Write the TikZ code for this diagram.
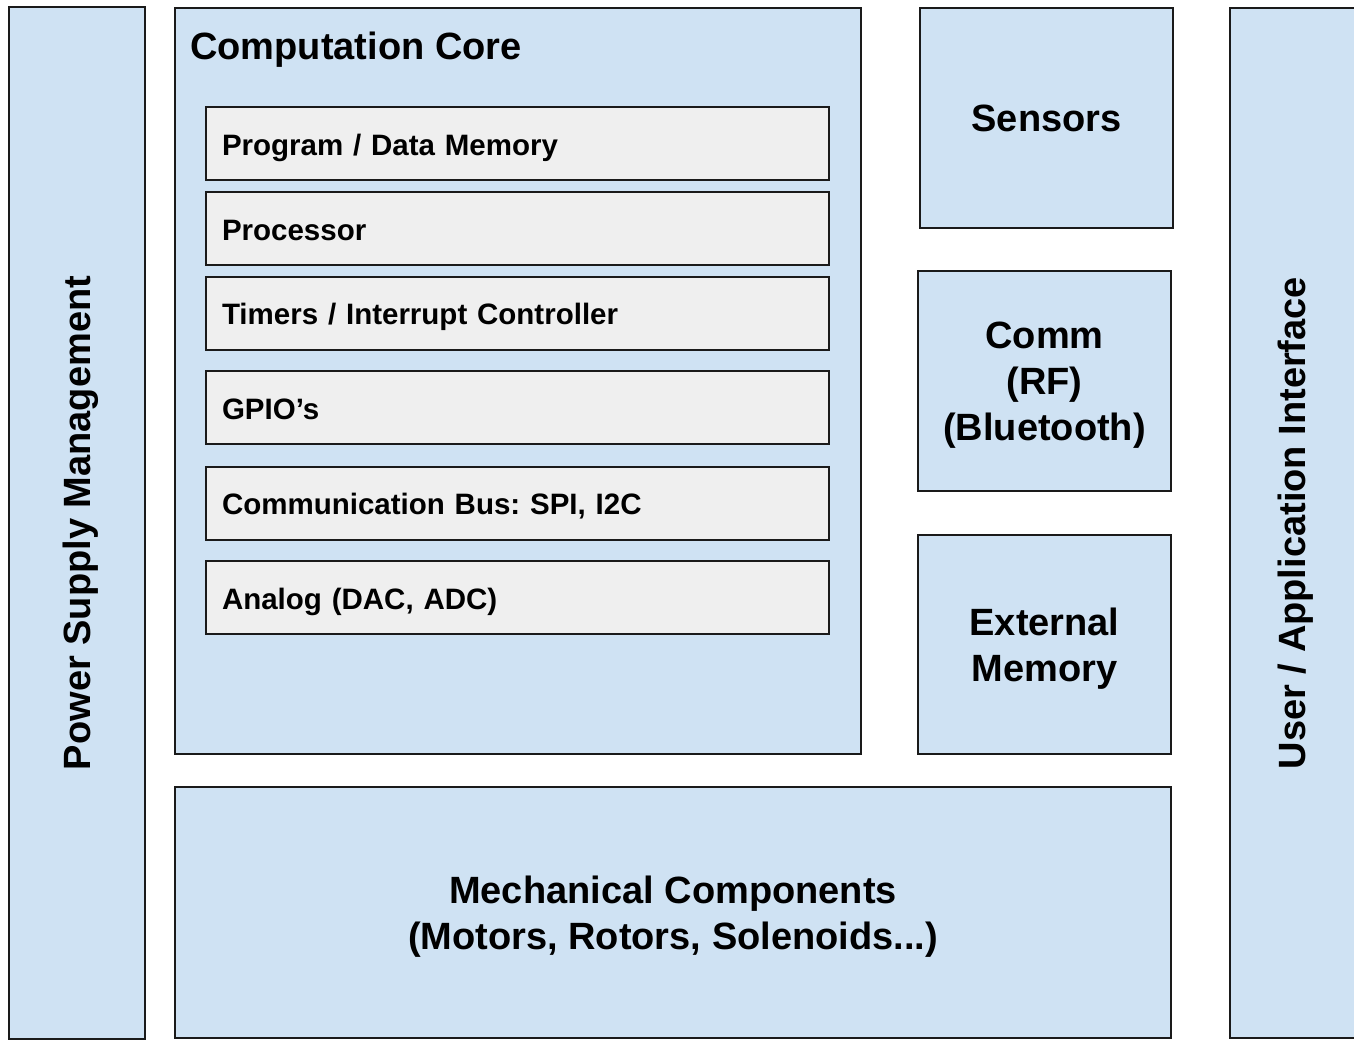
\documentclass[tikz,border=0pt]{standalone}
\usepackage{fontspec}
\setmainfont{Liberation Sans}
\frenchspacing
\definecolor{boxblue}{HTML}{CFE2F3}
\definecolor{boxgray}{HTML}{EFEFEF}
\definecolor{edge}{HTML}{1A1A1A}
\begin{document}
\begin{tikzpicture}[x=1pt,y=-1pt,
  blk/.style={draw=edge,line width=2pt,fill=boxblue,inner sep=0pt,align=center,
    font=\fontsize{38}{46}\selectfont\bfseries},
  sub/.style={draw=edge,line width=2pt,fill=boxgray,minimum width=623pt,minimum height=73pt,
    text width=591pt,inner xsep=16pt,inner ysep=0pt,align=left,
    text height=29pt,text depth=6pt,
    font=\fontsize{29.5}{34}\selectfont\bfseries},
  lbl/.style={inner sep=0pt,font=\fontsize{38}{46}\selectfont\bfseries,align=center}]
\useasboundingbox (0,0) rectangle (1354,1040);
\clip (0,0) rectangle (1354,1040);
% Power supply
\node[blk,minimum width=136pt,minimum height=1031pt] (ps) at (77,523) {};
\node[lbl,rotate=90] (pst) at (81,523) {Power Supply Management};
% Computation core
\node[blk,minimum width=686pt,minimum height=746pt] (core) at (518,381) {};
\node[lbl,anchor=base west] (coret) at (190,60) {Computation Core};
\node[sub] (mem) at (517.5,144) {Program / Data Memory};
\node[sub] (proc) at (517.5,229) {Processor};
\node[sub] (tim) at (517.5,313.5) {Timers / Interrupt Controller};
\node[sub] (gpio) at (517.5,407.5) {GPIO’s};
\node[sub] (bus) at (517.5,503) {Communication Bus: SPI, I2C};
\node[sub] (ana) at (517.5,597.5) {Analog (DAC, ADC)};
% Right column
\node[blk,minimum width=253pt,minimum height=220pt] (sens) at (1046.5,118) {Sensors};
\node[blk,minimum width=253pt,minimum height=220pt] (comm) at (1044.5,381) {};
\node[lbl,yshift=-4pt] (commt) at (comm.center) {Comm\\(RF)\\(Bluetooth)};
\node[blk,minimum width=253pt,minimum height=219pt] (ext) at (1044.5,644.5) {};
\node[lbl,yshift=-4pt] (extt) at (ext.center) {External\\Memory};
% Mechanical
\node[blk,minimum width=996pt,minimum height=251pt] (mech) at (673,912.5) {};
\node[lbl,yshift=-4pt] (mecht) at (mech.center) {Mechanical Components\\(Motors, Rotors, Solenoids...)};
% User interface
\node[blk,minimum width=132pt,minimum height=1030pt] (ui) at (1296,523) {};
\node[lbl,rotate=90] (uit) at (1296,523) {User / Application Interface};
\end{tikzpicture}
\end{document}
